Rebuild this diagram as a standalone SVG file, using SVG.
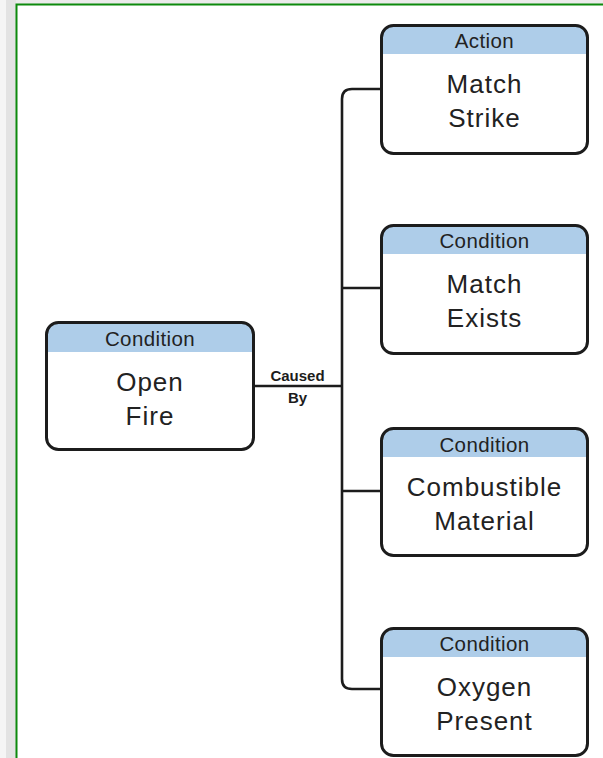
<svg xmlns="http://www.w3.org/2000/svg" width="603" height="758" viewBox="0 0 603 758">
  <style>
    .box { fill: #ffffff; stroke: #1c1c1c; stroke-width: 3; }
    .head { fill: #aecde9; }
    .type { font-family: "Liberation Sans", Arial, sans-serif; font-size: 20.5px; letter-spacing: 0.4px; fill: #222; text-anchor: middle; }
    .name { font-family: "Liberation Sans", Arial, sans-serif; font-size: 26px; letter-spacing: 1px; fill: #222; text-anchor: middle; }
    .rel { font-family: "Liberation Sans", Arial, sans-serif; font-size: 15px; font-weight: bold; fill: #1c1c1c; text-anchor: middle; }
    .wire { fill: none; stroke: #1c1c1c; stroke-width: 2.6; }
  </style>

  <!-- page frame -->
  <rect x="0" y="0" width="603" height="758" fill="#ffffff"/>
  <rect x="0" y="0" width="603" height="4" fill="#ebebeb"/>
  <rect x="0" y="0" width="6" height="758" fill="#f5f5f5"/>
  <rect x="6" y="0" width="10" height="758" fill="#e3e3e3"/>
  <path d="M16.5 758 V4.5 H603" fill="none" stroke="#0d8a0d" stroke-width="2"/>

  <!-- connectors -->
  <g id="connectors">
    <path class="wire" d="M254 386 H342"/>
    <path class="wire" d="M380 89 H352 Q342 89 342 99 V679 Q342 689 352 689 H380"/>
    <path class="wire" d="M342 288 H380"/>
    <path class="wire" d="M342 491 H380"/>
    <text class="rel" x="297.5" y="381">Caused</text>
    <text class="rel" x="297.5" y="403">By</text>
  </g>

  <!-- Open Fire -->
  <g id="open-fire">
    <path class="head" d="M46.5 352 V334.5 A12 12 0 0 1 58.5 322.5 H241.5 A12 12 0 0 1 253.5 334.5 V352 Z"/>
    <rect class="box" x="46.5" y="322.5" width="207" height="127" rx="12" style="fill:none"/>
    <text class="type" x="150" y="346">Condition</text>
    <text class="name" x="150" y="391">Open</text>
    <text class="name" x="150" y="425">Fire</text>
  </g>

  <!-- Match Strike -->
  <g id="match-strike">
    <path class="head" d="M381.5 54 V37.5 A12 12 0 0 1 393.5 25.5 H575.5 A12 12 0 0 1 587.5 37.5 V54 Z"/>
    <rect class="box" x="381.5" y="25.5" width="206" height="128" rx="12" style="fill:none"/>
    <text class="type" x="484.5" y="48">Action</text>
    <text class="name" x="484.5" y="93">Match</text>
    <text class="name" x="484.5" y="127">Strike</text>
  </g>

  <!-- Match Exists -->
  <g id="match-exists">
    <path class="head" d="M381.5 254 V237.5 A12 12 0 0 1 393.5 225.5 H575.5 A12 12 0 0 1 587.5 237.5 V254 Z"/>
    <rect class="box" x="381.5" y="225.5" width="206" height="128" rx="12" style="fill:none"/>
    <text class="type" x="484.5" y="248">Condition</text>
    <text class="name" x="484.5" y="293">Match</text>
    <text class="name" x="484.5" y="327">Exists</text>
  </g>

  <!-- Combustible Material -->
  <g id="combustible-material">
    <path class="head" d="M381.5 457 V440.5 A12 12 0 0 1 393.5 428.5 H575.5 A12 12 0 0 1 587.5 440.5 V457 Z"/>
    <rect class="box" x="381.5" y="428.5" width="206" height="127" rx="12" style="fill:none"/>
    <text class="type" x="484.5" y="452">Condition</text>
    <text class="name" x="484.5" y="496">Combustible</text>
    <text class="name" x="484.5" y="530">Material</text>
  </g>

  <!-- Oxygen Present -->
  <g id="oxygen-present">
    <path class="head" d="M381.5 657 V640.5 A12 12 0 0 1 393.5 628.5 H575.5 A12 12 0 0 1 587.5 640.5 V657 Z"/>
    <rect class="box" x="381.5" y="628.5" width="206" height="127" rx="12" style="fill:none"/>
    <text class="type" x="484.5" y="651">Condition</text>
    <text class="name" x="484.5" y="696">Oxygen</text>
    <text class="name" x="484.5" y="730">Present</text>
  </g>
</svg>
